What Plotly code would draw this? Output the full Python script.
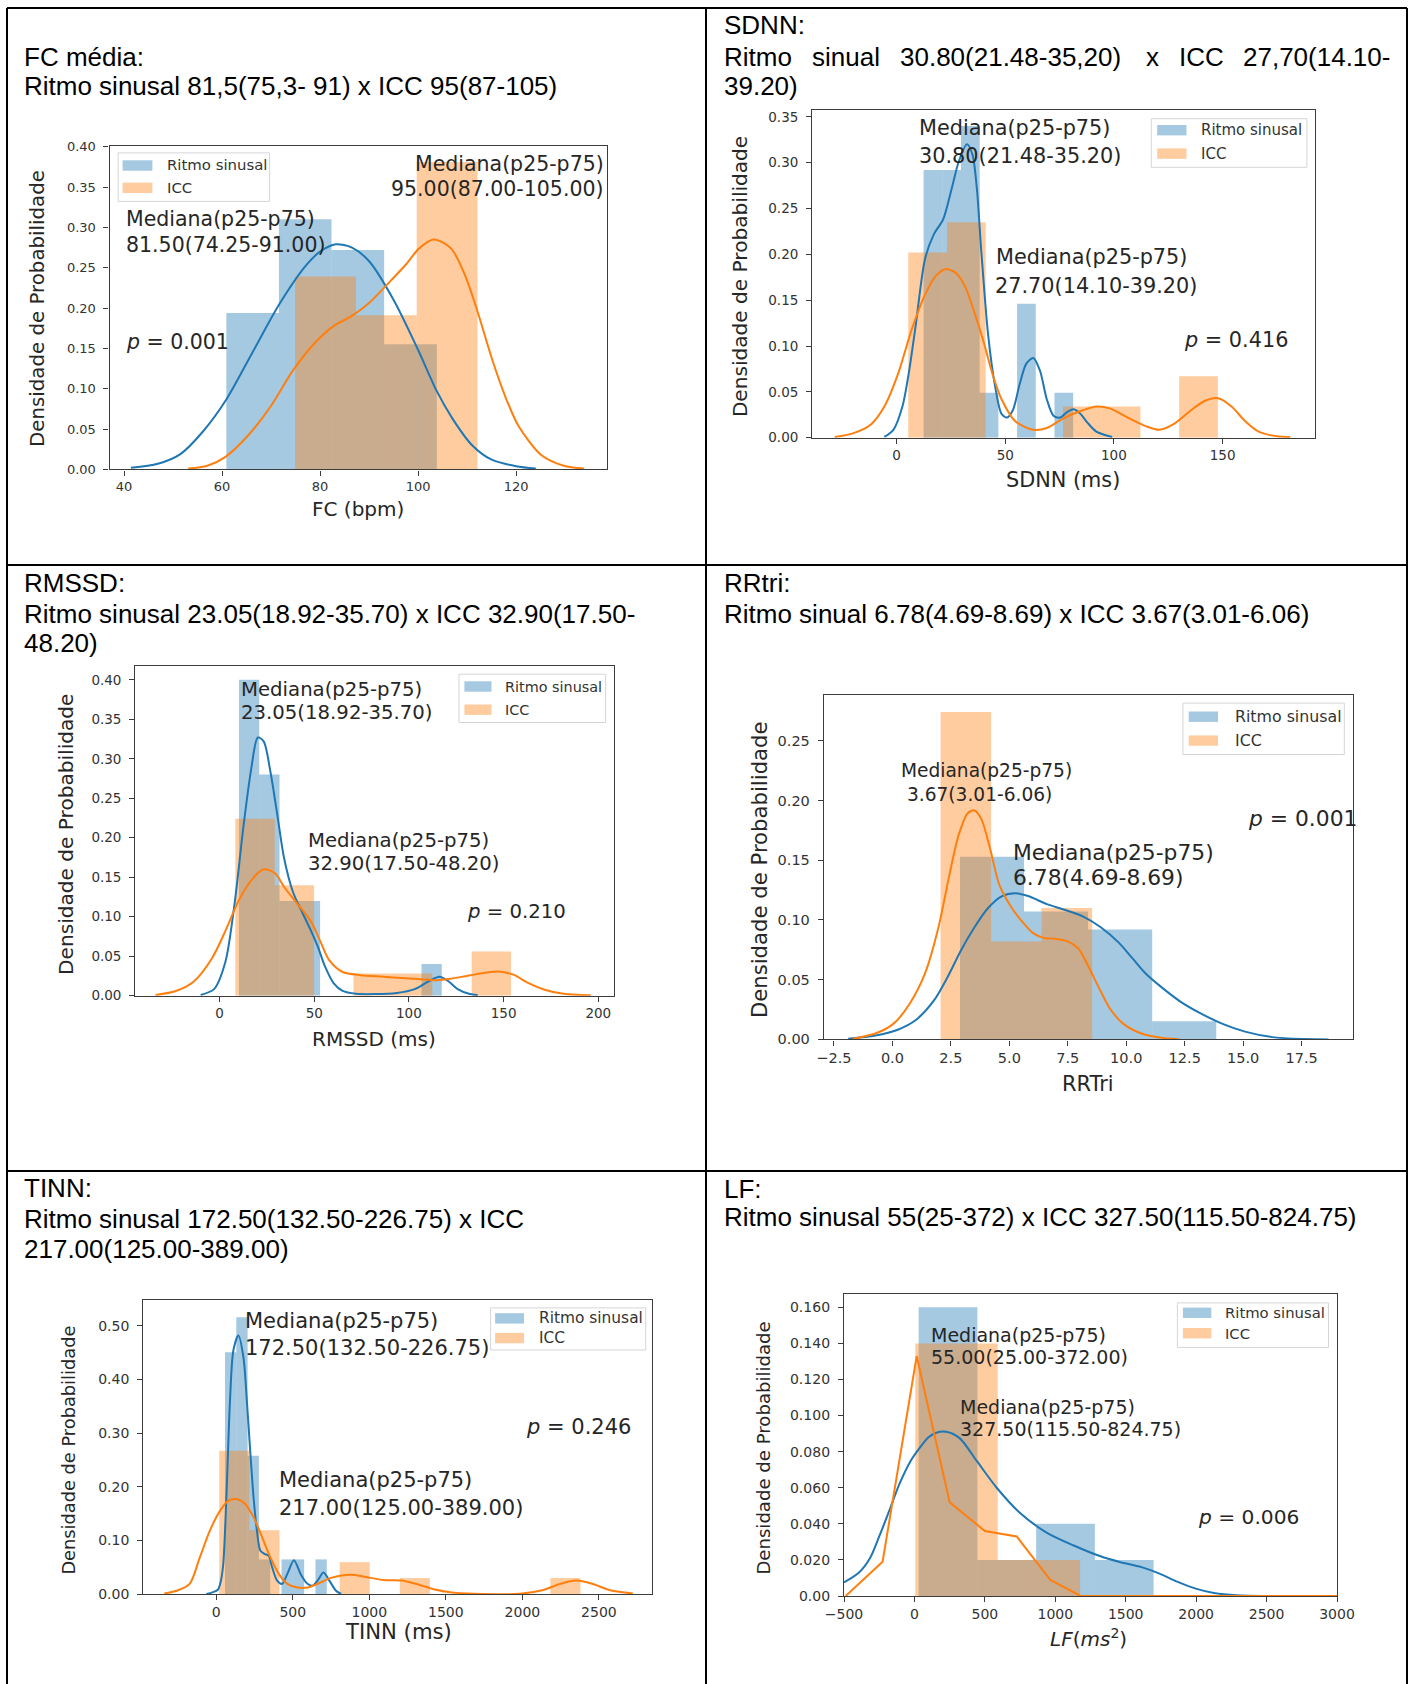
import plotly.graph_objects as go

W, H = 1411, 1684

BLUE = '#1f77b4'
ORANGE = '#ff7f0e'
BLUE_FILL = 'rgba(31,119,180,0.4)'
ORANGE_FILL = 'rgba(255,127,14,0.4)'

series_names = ['Ritmo sinusal', 'ICC']
median_label = 'Mediana(p25-p75)'
y_title = 'Densidade de Probabilidade'

# ---------------- FC ----------------
fc_rs_edges = [60.87, 71.6, 82.33, 93.06, 103.8]
fc_rs_dens = [0.194, 0.31, 0.272, 0.155]
fc_icc_edges = [74.9, 87.3, 99.7, 112.1]
fc_icc_dens = [0.239, 0.191, 0.381]
fc_rs_kde_x = [41.4, 46.9, 51.5, 56.1, 60.9, 66.2, 71.7, 77, 80, 83.2, 86.5, 90, 95, 100, 103.8, 107, 111, 115, 120, 124]
fc_rs_kde_y = [0.002, 0.007, 0.019, 0.047, 0.087, 0.145, 0.205, 0.252, 0.27, 0.279, 0.275, 0.258, 0.21, 0.148, 0.097, 0.063, 0.03, 0.012, 0.004, 0.001]
fc_icc_kde_x = [53.1, 57.0, 60.7, 65.3, 69.9, 74.5, 79.1, 82.8, 86.4, 90.1, 93.8, 97.5, 100.2, 103.2, 106.7, 109.4, 112.0, 114.9, 117.7, 120.5, 125.1, 129.7, 133.8]
fc_icc_kde_y = [0.001, 0.0045, 0.0156, 0.042, 0.078, 0.123, 0.158, 0.178, 0.19, 0.207, 0.23, 0.254, 0.274, 0.285, 0.274, 0.243, 0.198, 0.14, 0.0914, 0.0535, 0.0178, 0.0045, 0.001]
fc_medians = ['95.00(87.00-105.00)', '81.50(74.25-91.00)']
fc_p = '0.001'

# ---------------- SDNN ----------------
sdnn_rs_edges = [12.45, 21.05, 29.65, 38.25, 46.85, 55.45, 64.05, 72.65, 81.25]
sdnn_rs_dens = [0.292, 0.292, 0.34, 0.049, 0, 0.146, 0, 0.049]
sdnn_icc_edges = [5.4, 23.2, 41.0, 58.8, 76.6, 94.4, 112.2, 130.0, 147.8]
sdnn_icc_dens = [0.202, 0.235, 0, 0, 0.034, 0.034, 0, 0.067]
sdnn_rs_kde_x = [-5.6, -1.45, 2.7, 5.8, 8.9, 13.1, 17.2, 21.4, 25.5, 28.6, 32.4, 34.9, 36.9, 39.0, 42.1, 45.2, 48.3, 50.8, 53.5, 56.6, 59.75, 62.9, 66.0, 69.1, 72.2, 75.3, 78.4, 81.5, 84.6, 87.8, 91.9, 99.2]
sdnn_rs_kde_y = [0.0008, 0.0086, 0.034, 0.073, 0.124, 0.195, 0.222, 0.238, 0.273, 0.301, 0.32, 0.309, 0.273, 0.203, 0.113, 0.058, 0.026, 0.022, 0.030, 0.058, 0.081, 0.087, 0.073, 0.042, 0.024, 0.022, 0.028, 0.031, 0.026, 0.0165, 0.0067, 0.0008]
sdnn_icc_kde_x = [-28.4, -20.1, -11.8, -5.6, 0.6, 6.85, 13.1, 18.3, 22.8, 27.6, 31.7, 35.9, 40.0, 44.2, 48.3, 54.6, 62.9, 69.1, 77.4, 85.7, 91.9, 98.1, 106.4, 114.7, 121.0, 127.2, 135.5, 141.7, 147.9, 154.1, 160.4, 166.6, 174.9, 181.1]
sdnn_icc_kde_y = [0.0008, 0.0047, 0.0145, 0.034, 0.069, 0.117, 0.156, 0.177, 0.184, 0.179, 0.164, 0.136, 0.105, 0.069, 0.042, 0.018, 0.0086, 0.0106, 0.022, 0.030, 0.034, 0.032, 0.022, 0.0126, 0.0086, 0.0145, 0.030, 0.040, 0.043, 0.034, 0.018, 0.0067, 0.0016, 0.0008]
sdnn_medians = ['30.80(21.48-35.20)', '27.70(14.10-39.20)']
sdnn_p = '0.416'

# ---------------- RMSSD ----------------
rmssd_rs_edges = [10.24, 20.95, 31.66, 42.37, 53.08, 63.79, 74.5, 85.21, 95.92, 106.63, 117.34]
rmssd_rs_dens = [0.40, 0.28, 0.12, 0.12, 0, 0, 0, 0, 0, 0.04]
rmssd_icc_edges = [8.33, 29.13, 49.93, 70.73, 91.53, 112.33, 133.13, 153.93]
rmssd_icc_dens = [0.224, 0.14, 0, 0.028, 0.028, 0, 0.056]
rmssd_rs_kde_x = [-10, -2.9, 3.1, 7.9, 12.6, 16.7, 20.2, 23.3, 26.9, 30.5, 34.0, 38.8, 43.6, 48.3, 51.9, 55.5, 60.2, 65.0, 72.1, 81.7, 93.6, 103.1, 110.2, 116.2, 121.0, 125.7, 131.7, 136.4]
rmssd_rs_kde_y = [0.001, 0.0083, 0.043, 0.116, 0.214, 0.287, 0.327, 0.322, 0.283, 0.229, 0.175, 0.131, 0.106, 0.082, 0.062, 0.038, 0.016, 0.006, 0.0024, 0.002, 0.0034, 0.0083, 0.018, 0.024, 0.018, 0.0083, 0.0024, 0.0005]
rmssd_icc_kde_x = [-33.8, -23.1, -13.6, -4.0, 3.1, 10.2, 17.4, 23.3, 29.3, 34.0, 41.2, 48.3, 53.1, 57.9, 65.0, 74.5, 86.4, 98.3, 107.9, 115.0, 122.1, 131.7, 141.2, 148.3, 155.5, 162.6, 172.1, 181.7, 196.0]
rmssd_icc_kde_y = [0.001, 0.0059, 0.018, 0.0475, 0.082, 0.121, 0.148, 0.160, 0.155, 0.138, 0.116, 0.094, 0.0695, 0.045, 0.030, 0.026, 0.024, 0.022, 0.0206, 0.0196, 0.0215, 0.0255, 0.0294, 0.0304, 0.0264, 0.0166, 0.0073, 0.0024, 0.0005]
rmssd_medians = ['23.05(18.92-35.70)', '32.90(17.50-48.20)']
rmssd_p = '0.210'

# ---------------- RRTri ----------------
rrtri_rs_edges = [2.89, 5.63, 8.37, 11.11, 13.85]
rrtri_rs_dens = [0.153, 0.107, 0.092, 0.0153]
rrtri_icc_edges = [2.06, 4.22, 6.38, 8.54]
rrtri_icc_dens = [0.274, 0.082, 0.11]
rrtri_rs_kde_x = [-1.89, -0.73, 0.23, 1.0, 1.77, 2.35, 2.93, 3.51, 4.09, 4.67, 5.25, 5.83, 6.60, 7.37, 8.14, 8.91, 9.68, 10.26, 10.84, 11.61, 12.38, 13.16, 14.12, 15.08, 16.24, 17.59, 18.65]
rrtri_rs_kde_y = [0.0006, 0.0032, 0.0081, 0.0162, 0.0324, 0.0518, 0.0745, 0.0939, 0.110, 0.1198, 0.1224, 0.1198, 0.1133, 0.1085, 0.103, 0.0939, 0.081, 0.068, 0.055, 0.0421, 0.0308, 0.022, 0.013, 0.0065, 0.0019, 0.0003, 0.0]
rrtri_icc_kde_x = [-1.70, -0.73, 0.04, 0.71, 1.39, 1.97, 2.45, 2.84, 3.22, 3.51, 3.80, 4.19, 4.57, 5.05, 5.54, 6.02, 6.50, 6.98, 7.47, 7.95, 8.33, 8.82, 9.30, 9.88, 10.65, 11.42, 12.29]
rrtri_icc_kde_y = [0.0006, 0.0049, 0.013, 0.029, 0.055, 0.0939, 0.139, 0.1716, 0.1894, 0.1917, 0.1846, 0.1587, 0.1295, 0.1117, 0.0988, 0.089, 0.0848, 0.0842, 0.0823, 0.0761, 0.0631, 0.0437, 0.0259, 0.013, 0.0049, 0.0016, 0.0]
rrtri_medians = [' 3.67(3.01-6.06)', '6.78(4.69-8.69)']
rrtri_p = '0.001'

# ---------------- TINN ----------------
tinn_rs_edges = [56.8, 130.7, 204.6, 278.5, 352.4, 426.3, 500.2, 574.1, 648.0, 721.9]
tinn_rs_dens = [0.451, 0.516, 0.258, 0.0645, 0, 0.0645, 0.0645, 0, 0.0645]
tinn_icc_edges = [19.1, 215.8, 412.5, 609.2, 805.9, 1002.6, 1199.3, 1396.0, 1592.7, 1789.4, 1986.1, 2182.8, 2379.5]
tinn_icc_dens = [0.267, 0.119, 0, 0, 0.0594, 0, 0.0297, 0, 0, 0, 0, 0.0297]
tinn_rs_kde_x = [-65, -25, 10, 28, 45.5, 67.5, 89.5, 111.5, 144.5, 177.5, 199.5, 221.5, 243.5, 265.5, 287.5, 314, 342.5, 364.5, 397.5, 430.5, 463.5, 507.5, 551.5, 595.5, 628.5, 661.5, 701, 738.5, 782.5, 815.5]
tinn_rs_kde_y = [0, 0.003, 0.008, 0.022, 0.056, 0.193, 0.361, 0.454, 0.482, 0.441, 0.361, 0.267, 0.18, 0.118, 0.081, 0.075, 0.071, 0.05, 0.025, 0.019, 0.037, 0.063, 0.037, 0.019, 0.0155, 0.025, 0.040, 0.025, 0.006, 0]
tinn_icc_kde_x = [-340, -260, -174, -108, -42, 24, 79, 134, 189, 244, 299, 354, 409, 464, 530, 596, 662, 750, 882, 970, 1095, 1213, 1302, 1420, 1539, 1687, 1983, 2130, 2249, 2350, 2456, 2574, 2722]
tinn_icc_kde_y = [0.001, 0.006, 0.019, 0.068, 0.118, 0.155, 0.174, 0.177, 0.168, 0.143, 0.106, 0.068, 0.037, 0.019, 0.012, 0.012, 0.019, 0.030, 0.036, 0.032, 0.026, 0.025, 0.019, 0.009, 0.003, 0.0005, 0.0005, 0.007, 0.019, 0.025, 0.019, 0.007, 0.001]
tinn_medians = ['172.50(132.50-226.75)', '217.00(125.00-389.00)']
tinn_p = '0.246'

# ---------------- LF ----------------
lf_rs_edges = [30, 447, 864, 1281, 1698]
lf_rs_dens = [0.16, 0.02, 0.04, 0.02]
lf_icc_edges = [6, 591, 1176]
lf_icc_dens = [0.14, 0.02]
lf_rs_kde_x = [-500, -393, -315, -250, -180, -107, -26, 36, 100, 155, 226, 321, 441, 584, 750, 941, 1131, 1321, 1451, 1612, 1740, 1869, 1997, 2126, 2286, 2511]
lf_rs_kde_y = [0.0075, 0.013, 0.021, 0.033, 0.047, 0.062, 0.075, 0.082, 0.088, 0.0905, 0.091, 0.0875, 0.075, 0.060, 0.046, 0.035, 0.028, 0.022, 0.019, 0.016, 0.0124, 0.0078, 0.0041, 0.0017, 0.0004, 0]
lf_icc_kde_x = [-488, -226, 16, 250, 500, 726, 964, 1179, 3000]
lf_icc_kde_y = [0, 0.019, 0.133, 0.052, 0.036, 0.033, 0.009, 0, 0]
lf_medians = ['55.00(25.00-372.00)', '327.50(115.50-824.75)']
lf_p = '0.006'

# ---------------- header texts ----------------
hdr_fc = ['FC média:', 'Ritmo sinusal 81,5(75,3- 91) x ICC 95(87-105)']
hdr_sdnn = ['SDNN:', ['Ritmo', 'sinual', '30.80(21.48-35,20)', 'x', 'ICC', '27,70(14.10-'], '39.20)']
hdr_rmssd = ['RMSSD:', 'Ritmo sinusal 23.05(18.92-35.70) x ICC 32.90(17.50-', '48.20)']
hdr_rrtri = ['RRtri:', 'Ritmo sinual 6.78(4.69-8.69) x ICC 3.67(3.01-6.06)']
hdr_tinn = ['TINN:', 'Ritmo sinusal 172.50(132.50-226.75) x ICC', '217.00(125.00-389.00)']
hdr_lf = ['LF:', 'Ritmo sinusal 55(25-372) x ICC 327.50(115.50-824.75)']

# tick labels
fc_xticks = [40, 60, 80, 100, 120]
sdnn_xticks = [0, 50, 100, 150]
rmssd_xticks = [0, 50, 100, 150, 200]
rrtri_xticks = [-2.5, 0, 2.5, 5, 7.5, 10, 12.5, 15, 17.5]
rrtri_xlabels = ['\u22122.5', '0.0', '2.5', '5.0', '7.5', '10.0', '12.5', '15.0', '17.5']
tinn_xticks = [0, 500, 1000, 1500, 2000, 2500]
lf_xticks = [-500, 0, 500, 1000, 1500, 2000, 2500, 3000]
lf_xlabels = ['\u2212500', '0', '500', '1000', '1500', '2000', '2500', '3000']
y005_8 = [0, 0.05, 0.10, 0.15, 0.20, 0.25, 0.30, 0.35, 0.40]
y005_labels = ['0.00', '0.05', '0.10', '0.15', '0.20', '0.25', '0.30', '0.35', '0.40']
tinn_yticks = [0, 0.1, 0.2, 0.3, 0.4, 0.5]
tinn_ylabels = ['0.00', '0.10', '0.20', '0.30', '0.40', '0.50']
lf_yticks = [0, 0.02, 0.04, 0.06, 0.08, 0.10, 0.12, 0.14, 0.16]
lf_ylabels = ['0.00', '0.020', '0.040', '0.060', '0.080', '0.100', '0.120', '0.140', '0.160']


def P(x, y):
    return x / W, 1 - y / H


panels = [
    dict(rs=(fc_rs_edges, fc_rs_dens, fc_rs_kde_x, fc_rs_kde_y),
         icc=(fc_icc_edges, fc_icc_dens, fc_icc_kde_x, fc_icc_kde_y),
         box=(109.6, 145.7, 607.4, 469.4), xr=[37.06, 138.6], yr=[0, 0.4013],
         xt=(fc_xticks, [str(v) for v in fc_xticks]), yt=(y005_8, y005_labels), tfs=13,
         xtitle=('FC (bpm)', 357.6, 509.0, 20), ytitle=(37.4, 308.6, 19.8),
         legend=(118.1, 152.9, 269.6, 201.4, 122.6, 152.4, 165.5, 187.8, 164.6, 14.9),
         texts=[(median_label, 138.4, 0.379, 'right', 20.5), (fc_medians[0], 138.4, 0.348, 'right', 20.5),
                (median_label, 40.0, 0.31, 'left', 20.5), (fc_medians[1], 40.0, 0.2787, 'left', 20.5),
                ('<i>p</i> = ' + fc_p, 40.0, 0.158, 'left', 20.5)],
         kshape='spline'),
    dict(rs=(sdnn_rs_edges, sdnn_rs_dens, sdnn_rs_kde_x, sdnn_rs_kde_y),
         icc=(sdnn_icc_edges, sdnn_icc_dens, sdnn_icc_kde_x, sdnn_icc_kde_y),
         box=(812.2, 110.4, 1315.0, 437.7), xr=[-38.8, 192.5], yr=[0, 0.357],
         xt=(sdnn_xticks, [str(v) for v in sdnn_xticks]), yt=(y005_8[:8], y005_labels[:8]), tfs=13.5,
         xtitle=('SDNN (ms)', 1062.5, 480.2, 20.8), ytitle=(740.1, 277.0, 20.1),
         legend=(1151.3, 118.7, 1306.9, 167.3, 1157.2, 1186.5, 130.2, 153.6, 1199.1, 15),
         texts=[(median_label, 9.54, 0.3374, 'left', 20.8), (sdnn_medians[0], 9.54, 0.3068, 'left', 20.8),
                (median_label, 45.0, 0.197, 'left', 20.8), (sdnn_medians[1], 44.6, 0.1656, 'left', 20.8),
                ('<i>p</i> = ' + sdnn_p, 131.3, 0.1067, 'left', 20.8)],
         kshape='spline'),
    dict(rs=(rmssd_rs_edges, rmssd_rs_dens, rmssd_rs_kde_x, rmssd_rs_kde_y),
         icc=(rmssd_icc_edges, rmssd_icc_dens, rmssd_icc_kde_x, rmssd_icc_kde_y),
         box=(135.3, 666.4, 614.0, 995.7), xr=[-44.5, 208.3], yr=[0, 0.417],
         xt=(rmssd_xticks, [str(v) for v in rmssd_xticks]), yt=(y005_8, y005_labels), tfs=13.5,
         xtitle=('RMSSD (ms)', 374.3, 1038.6, 20), ytitle=(66.7, 834.2, 20.1),
         legend=(459.0, 674.2, 605.6, 722.5, 464.4, 491.5, 686.5, 709.7, 502.8, 14.4),
         texts=[(median_label, 10.24, 0.3878, 'left', 19.7), (rmssd_medians[0], 10.24, 0.3584, 'left', 19.7),
                (median_label, 45.5, 0.1968, 'left', 19.7), (rmssd_medians[1], 45.5, 0.1674, 'left', 19.7),
                ('<i>p</i> = ' + rmssd_p, 129.8, 0.1062, 'left', 19.7)],
         kshape='spline'),
    dict(rs=(rrtri_rs_edges, rrtri_rs_dens, rrtri_rs_kde_x, rrtri_rs_kde_y),
         icc=(rrtri_icc_edges, rrtri_icc_dens, rrtri_icc_kde_x, rrtri_icc_kde_y),
         box=(823.9, 695.4, 1353.3, 1039.4), xr=[-2.93, 19.71], yr=[0, 0.288],
         xt=(rrtri_xticks, rrtri_xlabels), yt=(y005_8[:6], y005_labels[:6]), tfs=14.5,
         xtitle=('RRTri', 1088.2, 1083.8, 20.9), ytitle=(759.0, 870.1, 21.2),
         legend=(1182.9, 703.1, 1344.3, 754.5, 1188.7, 1218.0, 716.7, 740.6, 1232.5, 15.8),
         texts=[(median_label, 0.27, 0.225, 'left', 18.6), (rrtri_medians[0], 0.27, 0.205, 'left', 18.6),
                (median_label, 5.05, 0.1564, 'left', 21.8), (rrtri_medians[1], 5.05, 0.1354, 'left', 21.8),
                ('<i>p</i> = ' + rrtri_p, 15.14, 0.1846, 'left', 21.8)],
         kshape='spline'),
    dict(rs=(tinn_rs_edges, tinn_rs_dens, tinn_rs_kde_x, tinn_rs_kde_y),
         icc=(tinn_icc_edges, tinn_icc_dens, tinn_icc_kde_x, tinn_icc_kde_y),
         box=(143.3, 1299.6, 651.7, 1594.0), xr=[-477, 2845], yr=[0, 0.549],
         xt=(tinn_xticks, [str(v) for v in tinn_xticks]), yt=(tinn_yticks, tinn_ylabels), tfs=14,
         xtitle=('TINN (ms)', 398.3, 1631.7, 21.2), ytitle=(67.6, 1450.0, 17.8),
         legend=(490.6, 1307.9, 645.7, 1350.0, 495.1, 524.0, 1318.4, 1338.1, 536.6, 15.4),
         texts=[(median_label, 177.5, 0.51, 'left', 21), (tinn_medians[0], 177.5, 0.4595, 'left', 21),
                (median_label, 393.5, 0.212, 'left', 21), (tinn_medians[1], 393.5, 0.1608, 'left', 21),
                ('<i>p</i> = ' + tinn_p, 2012, 0.3117, 'left', 21)],
         kshape='spline'),
    dict(rs=(lf_rs_edges, lf_rs_dens, lf_rs_kde_x, lf_rs_kde_y),
         icc=(lf_icc_edges, lf_icc_dens, lf_icc_kde_x, lf_icc_kde_y),
         box=(844.0, 1294.0, 1337.0, 1596.0), xr=[-500, 3000], yr=[0, 0.1674],
         xt=(lf_xticks, lf_xlabels), yt=(lf_yticks, lf_ylabels), tfs=14,
         xtitle=('<i>LF</i>(<i>ms</i><sup>2</sup>)', 1088.3, 1638.3, 20), ytitle=(762.6, 1448.0, 18.1),
         legend=(1177.4, 1302.9, 1328.5, 1347.4, 1182.9, 1211.3, 1312.8, 1333.2, 1222.5, 14.8),
         texts=[(median_label, 102.8, 0.1446, 'left', 19), (lf_medians[0], 102.8, 0.1324, 'left', 19),
                (median_label, 311.5, 0.1047, 'left', 19), (lf_medians[1], 311.5, 0.0925, 'left', 19),
                ('<i>p</i> = ' + lf_p, 1997, 0.0439, 'left', 20.2)],
         kshape='linear_icc'),
]

fig = go.Figure()
shapes = []
annotations = []
layout = dict(width=W, height=H, autosize=False,
              margin=dict(l=0, r=0, t=0, b=0, pad=0, autoexpand=False),
              paper_bgcolor='white', plot_bgcolor='white', barmode='overlay',
              showlegend=False)

SPINE = '#3c3c3c'
TXT = '#262626'

for i, p in enumerate(panels, start=1):
    xa = 'x' if i == 1 else 'x%d' % i
    ya = 'y' if i == 1 else 'y%d' % i
    # histograms (density per bin)
    for (edges, dens, kx, ky), fill in ((p['rs'], BLUE_FILL), (p['icc'], ORANGE_FILL)):
        centers = [(edges[k] + edges[k + 1]) / 2 for k in range(len(dens))]
        widths = [edges[k + 1] - edges[k] for k in range(len(dens))]
        fig.add_trace(go.Bar(x=centers, y=dens, width=widths, xaxis=xa, yaxis=ya,
                             marker=dict(color=fill, line=dict(width=0)), hoverinfo='skip'))
    # KDE lines
    for idx, ((edges, dens, kx, ky), col) in enumerate(((p['rs'], BLUE), (p['icc'], ORANGE))):
        shape = 'spline'
        if p['kshape'] == 'linear_icc' and idx == 1:
            shape = 'linear'
        line = dict(color=col, width=2, shape=shape)
        if shape == 'spline':
            line['smoothing'] = 0.8
        fig.add_trace(go.Scatter(x=kx, y=ky, mode='lines', xaxis=xa, yaxis=ya,
                                 line=line, hoverinfo='skip'))
    x0, y0, x1, y1 = p['box']
    axis_common = dict(showline=True, mirror=True, linecolor=SPINE, linewidth=1.3,
                       ticks='outside', ticklen=5, tickwidth=1.1, tickcolor=SPINE,
                       showgrid=False, zeroline=False, automargin=False,
                       tickfont=dict(family='DejaVu Sans', size=p['tfs'], color='#333333'))
    layout['xaxis' + ('' if i == 1 else str(i))] = dict(
        domain=[x0 / W, x1 / W], range=p['xr'], anchor=ya,
        tickmode='array', tickvals=p['xt'][0], ticktext=p['xt'][1], **axis_common)
    layout['yaxis' + ('' if i == 1 else str(i))] = dict(
        domain=[1 - y1 / H, 1 - y0 / H], range=p['yr'], anchor=xa, ticklabelstandoff=5,
        tickmode='array', tickvals=p['yt'][0], ticktext=p['yt'][1], **axis_common)

    # axis titles
    t, tx, ty, ts = p['xtitle']
    ax_, ay_ = P(tx, ty)
    annotations.append(dict(text=t, x=ax_, y=ay_, xref='paper', yref='paper', showarrow=False,
                            xanchor='center', yanchor='middle',
                            font=dict(family='DejaVu Sans', size=ts, color=TXT)))
    tx, ty, ts = p['ytitle']
    ax_, ay_ = P(tx, ty)
    annotations.append(dict(text=y_title, x=ax_, y=ay_, xref='paper', yref='paper', showarrow=False,
                            xanchor='center', yanchor='middle', textangle=-90,
                            font=dict(family='DejaVu Sans', size=ts, color=TXT)))
    # in-plot texts
    for (t, tx, ty, anc, fs) in p['texts']:
        annotations.append(dict(text=t, x=tx, y=ty, xref=xa, yref=ya, showarrow=False,
                                xanchor=anc, yanchor='middle',
                                font=dict(family='DejaVu Sans', size=fs, color=TXT)))
    # legend (box, colour patches, labels)
    lx0, ly0, lx1, ly1, px0, px1, c1, c2, tx, lfs = p['legend']
    shapes.append(dict(type='rect', xref='paper', yref='paper',
                       x0=lx0 / W, x1=lx1 / W, y0=1 - ly1 / H, y1=1 - ly0 / H,
                       line=dict(color='#d5d5d5', width=1), fillcolor='rgba(255,255,255,0.8)'))
    for cy, fill, name in ((c1, BLUE_FILL, series_names[0]), (c2, ORANGE_FILL, series_names[1])):
        shapes.append(dict(type='rect', xref='paper', yref='paper',
                           x0=px0 / W, x1=px1 / W, y0=1 - (cy + 5.2) / H, y1=1 - (cy - 5.2) / H,
                           line=dict(width=0), fillcolor=fill))
        annotations.append(dict(text=name, x=tx / W, y=1 - cy / H, xref='paper', yref='paper',
                                showarrow=False, xanchor='left', yanchor='middle',
                                font=dict(family='DejaVu Sans', size=lfs, color='#333333')))

# headers
HF = dict(family='Liberation Sans, Arial, sans-serif', size=26, color='black')


def header(text, x, y):
    annotations.append(dict(text=text, x=x / W, y=1 - y / H, xref='paper', yref='paper',
                            showarrow=False, xanchor='left', yanchor='middle', font=HF))


LX, RX = 21.6, 722.0
header(hdr_fc[0], LX, 57.5)
header(hdr_fc[1], LX, 86.3)
header(hdr_sdnn[0], RX, 25.2)
for word, wx in zip(hdr_sdnn[1], [722.0, 810.0, 897.9, 1143.6, 1176.5, 1240.6]):
    header(word, wx, 57.5)
header(hdr_sdnn[2], RX, 86.3)
header(hdr_rmssd[0], LX, 583.3)
header(hdr_rmssd[1], LX, 614.2)
header(hdr_rmssd[2], LX, 643.2)
header(hdr_rrtri[0], RX, 583.3)
header(hdr_rrtri[1], RX, 614.2)
header(hdr_tinn[0], LX, 1187.7)
header(hdr_tinn[1], LX, 1219.0)
header(hdr_tinn[2], LX, 1248.6)
header(hdr_lf[0], RX, 1189.4)
header(hdr_lf[1], RX, 1217.4)

# table grid
for gx in (7, 706, 1407):
    shapes.append(dict(type='line', xref='paper', yref='paper', x0=gx / W, x1=gx / W,
                       y0=0, y1=1 - 8 / H, line=dict(color='black', width=2)))
for gy in (8, 565, 1171):
    shapes.append(dict(type='line', xref='paper', yref='paper', x0=7 / W, x1=1407 / W,
                       y0=1 - gy / H, y1=1 - gy / H, line=dict(color='black', width=2)))

layout['shapes'] = shapes
layout['annotations'] = annotations
fig.update_layout(**layout)

fig.write_html('out.html', config={'displayModeBar': False})
with open('out.html', 'r', encoding='utf-8') as f:
    html = f.read()
html = html.replace('<head>', '<head><style>html,body{margin:0;padding:0;}</style>', 1)
with open('out.html', 'w', encoding='utf-8') as f:
    f.write(html)
